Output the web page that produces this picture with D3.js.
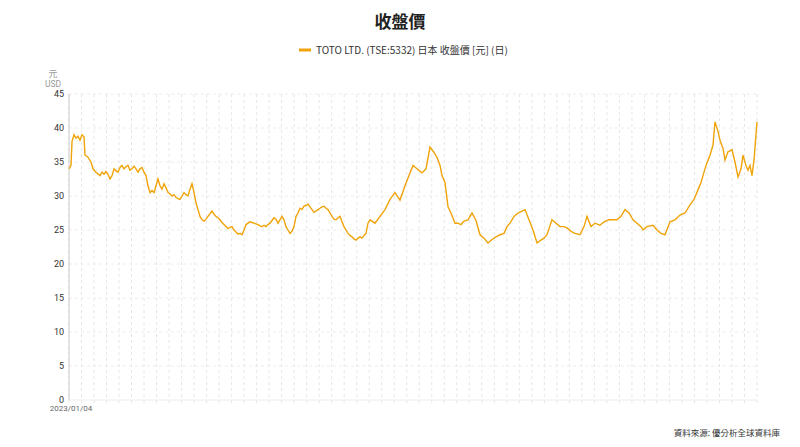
<!DOCTYPE html>
<html><head><meta charset="utf-8">
<script src="https://cdn.jsdelivr.net/npm/d3@7"></script>
<style>body{margin:0;background:#fff;font-family:"Noto Sans CJK TC","Noto Sans",sans-serif}</style>
</head><body><svg id="c" width="800" height="447"></svg>
<script>
// trading-day offset from 2023/01/04 and close price, as [day, close] points
const points2023 = [[0,34],[2,34.5],[3,38],[5,39],[7,38.5],[9,38.8],[11,38.2],[13,39],[15,38.7],[16,36],[19,35.7],[22,35],[24,34],[27,33.5],[31,33],[33,33.5],[35,33.2],[37,33.6],[39,33.2],[41,32.5],[43,33],[45,34],[47,33.7],[49,33.5],[51,34.2],[53,34.5],[55,34],[57,34.3],[59,34.5],[61,33.8],[63,34],[65,34.4],[67,34],[69,33.5],[71,34],[73,34.2],[75,33.5],[77,33],[79,31.5],[81,30.5],[83,30.8],[85,30.5],[87,31.5],[89,32.5],[91,31.5],[93,31],[95,31.8],[97,31.2],[99,30.5],[101,30.3],[103,30],[105,30.2],[107,29.8],[109,29.6],[111,29.5],[113,30],[115,30.5],[117,30.2],[119,30],[121,31],[123,31.8],[125,30.5],[127,29],[129,28],[131,27],[133,26.5],[135,26.3],[137,26.6],[139,27],[141,27.4],[143,27.8],[145,27.3],[147,27],[149,26.8],[151,26.5],[153,26.1],[155,25.8],[157,25.5],[159,25.2],[161,25.4],[163,25.5],[165,25],[167,24.7],[169,24.4],[171,24.5],[173,24.3],[175,25],[177,25.8],[179,26],[181,26.2],[183,26.1],[185,26],[187,25.9],[189,25.8],[191,25.6],[193,25.5],[195,25.7],[197,25.5],[199,25.8],[201,26],[203,26.4],[205,26.8],[207,26.6],[209,26],[211,26.5],[213,27],[215,26.5],[217,25.5],[219,25],[221,24.5],[223,24.8],[225,25.5],[227,27],[229,27.5],[231,28.2],[233,28],[235,28.5],[237,28.6],[239,28.8],[241,28.4],[243,28],[245,27.6],[247,27.8],[249,28],[251,28.2],[253,28.4],[255,28.5],[257,28.2],[259,28],[261,27.5],[263,27],[265,26.6],[267,26.5],[269,26.8],[271,27],[273,26.2],[275,25.5],[277,25],[279,24.5],[281,24.2],[283,24],[285,23.7],[287,23.5],[289,23.8],[291,24],[293,23.8],[295,24.2],[297,24.5],[299,26],[301,26.5]];
const points2024 = [[306,26],[311,27],[316,28],[321,29.5],[326,30.5],[331,29.4],[336,31.5],[340,33],[344,34.5],[348,34],[353,33.4],[357,34],[361,37.2],[365,36.4],[368,35.7],[371,34.5],[373,33],[376,32],[379,28.4],[382,27.5],[386,26],[389,26],[392,25.8],[395,26.3],[399,26.5],[403,27.5],[407,26.4],[411,24.3],[415,23.8],[419,23.1],[423,23.6],[427,24],[431,24.3],[435,24.5],[438,25.5],[441,26],[445,27],[449,27.5],[456,28],[460,26.5],[464,25],[468,23.1],[472,23.5],[475,23.8],[478,24.3],[483,26.5],[487,26],[491,25.5],[495,25.5],[498,25.3],[502,24.8],[506,24.5],[511,24.3],[515,25.5],[518,27],[522,25.5],[526,26],[531,25.7],[535,26.2],[540,26.5],[544,26.5],[548,26.5],[552,27],[556,28],[560,27.5],[564,26.5],[568,26],[572,25.5],[574,25],[578,25.5],[584,25.7],[588,25],[592,24.5],[596,24.3],[601,26.2],[606,26.5],[611,27.2],[616,27.5],[621,28.7],[625,29.5],[629,30.9],[632,32],[634,33],[637,34.5],[641,36],[644,37.5],[646,40.9],[649,39.5],[651,38.2],[654,37],[656,35.3],[659,36.5],[663,36.8],[666,35],[669,32.8],[672,34],[674,36],[677,34.5],[679,33.8],[681,34.5],[683,33],[685,35.3],[688,40.9]];
const yTicks = [0,5,10,15,20,25,30,35,40,45];
const xLabel = '2023/01/04';
const color = '#f0a30a';

const svg = d3.select('#c');
const m = {l:69, r:757, t:94, b:400};
const x = d3.scaleLinear().domain([0, 688]).range([m.l, m.r]);
const y = d3.scaleLinear().domain([0, 45]).range([m.b, m.t]);

// grid
const vg = d3.range(0, 689, 688/55);
svg.append('g').selectAll('line').data(vg).join('line')
  .attr('x1', d => x(d)).attr('x2', d => x(d)).attr('y1', m.t).attr('y2', m.b + 5)
  .attr('stroke', '#e6e6e6').attr('stroke-dasharray', '3,3');
svg.append('g').selectAll('line').data(yTicks).join('line')
  .attr('x1', m.l).attr('x2', m.r).attr('y1', d => y(d)).attr('y2', d => y(d))
  .attr('stroke', '#ececec').attr('stroke-dasharray', d => d === 0 ? null : '3,3');
svg.append('line').attr('x1', m.l).attr('x2', m.l).attr('y1', m.t).attr('y2', m.b)
  .attr('stroke', '#ccc');

const ya = svg.append('g').attr('transform', `translate(${m.l},0)`)
  .call(d3.axisLeft(y).tickValues(yTicks).tickSize(0).tickPadding(5));
ya.select('.domain').remove();
ya.selectAll('text').attr('font-size', 9).attr('fill', '#333').attr('font-family', 'Roboto');

svg.append('text').attr('x', 53).attr('y', 77).attr('text-anchor', 'middle')
  .attr('font-size', 9).attr('fill', '#999').text('元');
svg.append('text').attr('x', 53).attr('y', 87).attr('text-anchor', 'middle')
  .attr('font-size', 8.5).attr('fill', '#999').attr('font-family', 'Roboto').text('USD');
svg.append('text').attr('x', x(0) + 2).attr('y', 411).attr('text-anchor', 'middle')
  .attr('font-size', 8).attr('fill', '#666').attr('font-family', 'Roboto').text(xLabel);

svg.append('path').datum(points2023.concat(points2024))
  .attr('fill', 'none').attr('stroke', color).attr('stroke-width', 1.4)
  .attr('d', d3.line().x(d => x(d[0])).y(d => y(d[1])));

svg.append('text').attr('x', 400).attr('y', 28).attr('text-anchor', 'middle')
  .attr('font-size', 17).attr('font-weight', 'bold').attr('fill', '#222').text('收盤價');
svg.append('line').attr('x1', 299).attr('x2', 311).attr('y1', 50).attr('y2', 50)
  .attr('stroke', color).attr('stroke-width', 3);
svg.append('text').attr('x', 316).attr('y', 54).attr('font-size', 10).attr('fill', '#333')
  .text('TOTO LTD. (TSE:5332) 日本 收盤價 [元] (日)');
svg.append('text').attr('x', 780).attr('y', 436).attr('text-anchor', 'end')
  .attr('font-size', 8.5).attr('fill', '#333').text('資料來源: 優分析全球資料庫');
</script></body></html>
